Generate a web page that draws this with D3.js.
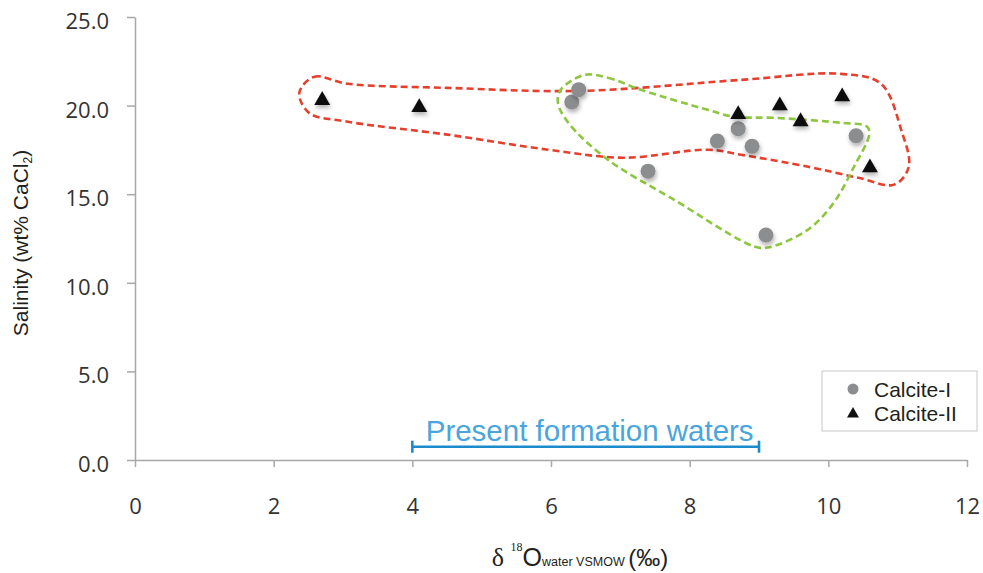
<!DOCTYPE html>
<html>
<head>
<meta charset="utf-8">
<script src="https://cdn.jsdelivr.net/npm/d3@7"></script>
<style>
  body { margin: 0; background: #fff; }
  svg { display: block; }
</style>
</head>
<body>
<div id="chart"></div>
<script>
// calcite-I fluid inclusions: [d18O water, salinity]
var calcite1 = [
  [6.3, 20.2], [6.4, 20.9], [7.4, 16.3], [8.4, 18.0],
  [8.7, 18.7], [8.9, 17.7], [9.1, 12.7], [10.4, 18.3]
];
// calcite-II
var calcite2 = [
  [2.7, 20.3], [4.1, 19.9], [8.7, 19.5], [9.3, 20.0],
  [9.6, 19.1], [10.2, 20.5], [10.6, 16.5]
];

// hand drawn envelopes (data units)
var redOutline = [
  [2.37, 20.72], [2.58, 21.62], [3.07, 21.23], [4.51, 21.0], [6.43, 20.83],
  [8.74, 21.45], [10.18, 21.79], [10.76, 21.23], [11.05, 18.64], [11.16, 16.55],
  [10.95, 15.54], [10.43, 15.93], [9.71, 16.55], [8.74, 17.23], [8.26, 17.51],
  [7.05, 17.06], [5.96, 17.51], [4.51, 18.36], [3.07, 19.09], [2.51, 19.59]
];
var greenOutline = [
  [6.48, 21.73], [6.82, 21.57], [7.30, 20.89], [8.26, 19.76], [8.64, 19.37],
  [9.22, 19.31], [10.18, 19.03], [10.56, 18.81], [10.59, 18.36], [10.37, 16.55],
  [10.08, 14.53], [9.71, 13.01], [9.13, 11.99], [8.93, 12.05], [7.77, 14.70],
  [6.82, 16.95], [6.25, 19.03], [6.10, 20.16], [6.14, 20.89]
];

var formationRange = [4, 9];
var formationLevel = 0.75;

var xTicks = [0, 2, 4, 6, 8, 10, 12];
var yTicks = [0, 5, 10, 15, 20, 25];

var width = 983, height = 573;

var svg = d3.select("#chart").append("svg")
  .attr("width", width)
  .attr("height", height)

var defs = svg.append("defs")
var shadow = defs.append("filter")
  .attr("id", "shadow")
  .attr("x", "-50%").attr("y", "-50%")
  .attr("width", "200%").attr("height", "200%")
shadow.append("feDropShadow")
  .attr("dx", 1).attr("dy", 3)
  .attr("stdDeviation", 2)
  .attr("flood-color", "#000")
  .attr("flood-opacity", 0.3)

var x = d3.scaleLinear().domain([0, 12]).range([135, 967]);
var y = d3.scaleLinear().domain([0, 25]).range([460, 17]);

var axisColor = "#a8a8a8";
var tickFont = "'Open Sans', sans-serif";

//axes
var gx = svg.append("g")
  .attr("transform", "translate(0," + y(0) + ")")
  .call(d3.axisBottom(x)
    .tickValues(xTicks)
    .tickSize(7)
    .tickSizeOuter(0)
    .tickPadding(31))
gx.selectAll("text")
  .style("font-family", tickFont)
  .style("font-size", "22px")
  .attr("fill", "#333")

var gy = svg.append("g")
  .attr("transform", "translate(" + x(0) + ",0)")
  .call(d3.axisLeft(y)
    .tickValues(yTicks)
    .tickFormat(d3.format(".1f"))
    .tickSize(8)
    .tickSizeOuter(0)
    .tickPadding(18))
gy.selectAll("text")
  .style("font-family", tickFont)
  .style("font-size", "22px")
  .attr("dy", "0.52em")
  .attr("fill", "#333")

svg.selectAll(".domain, .tick line")
  .attr("stroke", axisColor)
  .attr("stroke-width", 1.5)

//axis titles
svg.append("text")
  .attr("transform", "translate(28," + 243 + ") rotate(-90)")
  .attr("text-anchor", "middle")
  .style("font-family", "'Liberation Sans', Arial, sans-serif")
  .style("font-size", "21px")
  .attr("fill", "#231f20")
  .call(function(t) {
    t.append("tspan").text("Salinity (wt% CaCl");
    t.append("tspan").text("2").style("font-size", "12px").attr("dy", 4);
    t.append("tspan").text(")").attr("dy", -4);
  })

var xt = svg.append("text")
  .attr("x", 580)
  .attr("y", 566)
  .attr("text-anchor", "middle")
  .attr("fill", "#231f20")
  .style("font-family", "'Liberation Sans', Arial, sans-serif")
xt.append("tspan").text("δ ")
  .style("font-family", "'Liberation Serif', 'Times New Roman', serif")
  .style("font-size", "26px")
xt.append("tspan").text("18")
  .style("font-family", "'Liberation Serif', 'Times New Roman', serif")
  .style("font-size", "12px")
  .attr("dy", -15)
xt.append("tspan").text("O")
  .style("font-size", "25px")
  .attr("dy", 15)
xt.append("tspan").text("water VSMOW ")
  .style("font-size", "12.5px")
xt.append("tspan").text("(‰)")
  .style("font-size", "24px")

//envelopes
var outline = d3.line()
  .x(function(d) { return x(d[0]); })
  .y(function(d) { return y(d[1]); })
  .curve(d3.curveCatmullRomClosed.alpha(0.5))

svg.append("path")
  .datum(redOutline)
  .attr("d", outline)
  .attr("fill", "none")
  .attr("stroke", "#e5402d")
  .attr("stroke-width", 2.6)
  .attr("stroke-dasharray", "7,4")

svg.append("path")
  .datum(greenOutline)
  .attr("d", outline)
  .attr("fill", "none")
  .attr("stroke", "#8dc63f")
  .attr("stroke-width", 2.6)
  .attr("stroke-dasharray", "7,4")

//points
svg.append("g")
  .selectAll("circle")
  .data(calcite1)
  .enter().append("circle")
  .attr("cx", function(d) { return x(d[0]); })
  .attr("cy", function(d) { return y(d[1]); })
  .attr("r", 7.5)
  .attr("fill", "#8b8d8f")
  .attr("filter", "url(#shadow)")

var tri = d3.symbol().type(d3.symbolTriangle).size(110);
svg.append("g")
  .selectAll("path")
  .data(calcite2)
  .enter().append("path")
  .attr("d", tri)
  .attr("transform", function(d) { return "translate(" + x(d[0]) + "," + y(d[1]) + ")"; })
  .attr("fill", "#111")
  .attr("filter", "url(#shadow)")

//present formation waters
var barY = y(formationLevel);
var bar = svg.append("g")
  .attr("stroke", "#1b8bcc")
  .attr("stroke-width", 2.6)
bar.append("line")
  .attr("x1", x(formationRange[0])).attr("x2", x(formationRange[1]))
  .attr("y1", barY).attr("y2", barY)
bar.selectAll(".cap")
  .data(formationRange)
  .enter().append("line")
  .attr("x1", function(d) { return x(d); })
  .attr("x2", function(d) { return x(d); })
  .attr("y1", barY - 6).attr("y2", barY + 6)

svg.append("text")
  .attr("x", (x(formationRange[0]) + x(formationRange[1])) / 2 + 4)
  .attr("y", barY - 6)
  .attr("text-anchor", "middle")
  .attr("fill", "#4ba5dd")
  .style("font-family", "'Liberation Sans', Arial, sans-serif")
  .style("font-size", "29.5px")
  .text("Present formation waters")

//legend
var legend = svg.append("g").attr("transform", "translate(822,371)")
legend.append("rect")
  .attr("width", 155).attr("height", 60)
  .attr("fill", "#fff")
  .attr("stroke", "#c8c8c8")
legend.append("circle")
  .attr("cx", 31).attr("cy", 18).attr("r", 5.5)
  .attr("fill", "#8b8d8f")
legend.append("path")
  .attr("d", d3.symbol().type(d3.symbolTriangle).size(62))
  .attr("transform", "translate(31,43)")
  .attr("fill", "#111")
legend.selectAll(".lbl")
  .data(["Calcite-I", "Calcite-II"])
  .enter().append("text")
  .attr("x", 52)
  .attr("y", function(d, i) { return 18 + i * 24; })
  .attr("dy", "0.36em")
  .attr("fill", "#231f20")
  .style("font-family", "'Liberation Sans', Arial, sans-serif")
  .style("font-size", "21px")
  .text(function(d) { return d; })
</script>
</body>
</html>
